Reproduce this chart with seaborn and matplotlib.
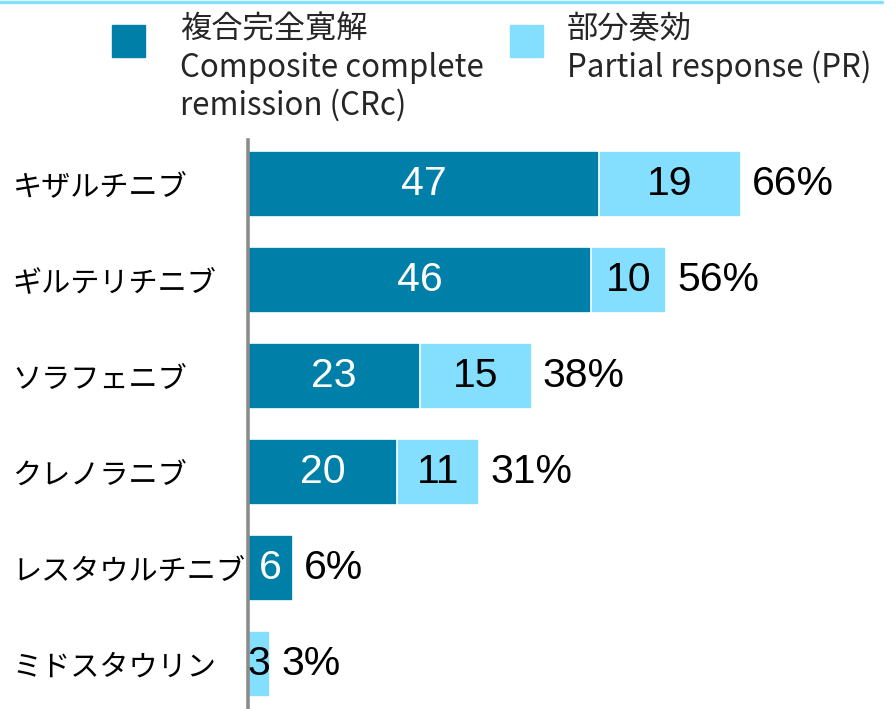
import matplotlib
matplotlib.use("Agg")
import matplotlib.pyplot as plt
from matplotlib.patches import Rectangle
from matplotlib.lines import Line2D
import seaborn as sns
import pandas as pd

# Response rates (%) by drug
drugs = ["キザルチニブ", "ギルテリチニブ", "ソラフェニブ", "クレノラニブ", "レスタウルチニブ", "ミドスタウリン"]
crc = [47, 46, 23, 20, 6, 0]
pr = [19, 10, 15, 11, 0, 3]
totals = [c + p for c, p in zip(crc, pr)]

legend_crc = ["複合完全寛解", "Composite complete", "remission (CRc)"]
legend_pr = ["部分奏効", "Partial response (PR)"]

dark = "#0080A8"
light = "#84DFFF"

sns.set_theme(style="white")
plt.rcParams["font.family"] = ["Noto Sans CJK JP", "DejaVu Sans"]

df = pd.DataFrame({"drug": drugs, "crc": crc, "pr": pr, "total": totals})

W, H = 896, 709
fig = plt.figure(figsize=(W / 100, H / 100), dpi=100)
ax = fig.add_axes([248 / W, 0, 642 / W, (H - 140) / H])

# stacked bars: total (PR colour) underneath, CRc on top
sns.barplot(data=df, x="total", y="drug", orient="h", color=light,
            saturation=1, width=0.69, edgecolor="white", linewidth=1.2, ax=ax)
sns.barplot(data=df, x="crc", y="drug", orient="h", color=dark,
            saturation=1, width=0.69, edgecolor="white", linewidth=1.2, ax=ax)

ax.set_xlim(0, 86)
ax.set_ylim(5.47, -0.46)
ax.set_xlabel("")
ax.set_ylabel("")
ax.set_xticks([])
for s in ["top", "right", "bottom"]:
    ax.spines[s].set_visible(False)
ax.spines["left"].set_color("#8C8C8C")
ax.spines["left"].set_linewidth(2.6)
ax.tick_params(axis="y", length=0, pad=169.5)
for lab in ax.get_yticklabels():
    lab.set_horizontalalignment("left")
    lab.set_fontsize(21)
    lab.set_color("black")

num_font = dict(family=["Liberation Sans", "DejaVu Sans"], fontsize=29.5)
for i, (c, p, t) in enumerate(zip(crc, pr, totals)):
    if c > 0:
        ax.text(c / 2, i, f"{c}", ha="center", va="center", color="white", **num_font)
    if p > 0:
        ax.text(c + p / 2, i, f"{p}", ha="center", va="center", color="black", **num_font)
    ax.annotate(f"{t}%", (t, i), xytext=(8, 0), textcoords="offset points",
                ha="left", va="center", color="black", **num_font)

# top rule
fig.add_artist(Line2D([0, 882 / W], [1 - 1.5 / H, 1 - 1.5 / H], color=light,
                      linewidth=2.5, transform=fig.transFigure))

# legend
def fx(px):
    return px / W

def fy(py):
    return 1 - py / H

fig.add_artist(Rectangle((fx(112), fy(57)), 33 / W, 32 / H, color=dark,
                         transform=fig.transFigure))
fig.add_artist(Rectangle((fx(510), fy(57)), 33 / W, 32 / H, color=light,
                         transform=fig.transFigure))
baselines = [38, 76.5, 115]
for k, line in enumerate(legend_crc):
    fig.text(fx(180), fy(baselines[k]), line, ha="left", va="baseline", fontsize=22.5)
for k, line in enumerate(legend_pr):
    fig.text(fx(567), fy(baselines[k]), line, ha="left", va="baseline", fontsize=22.5)

fig.savefig("out.png", dpi=100)
